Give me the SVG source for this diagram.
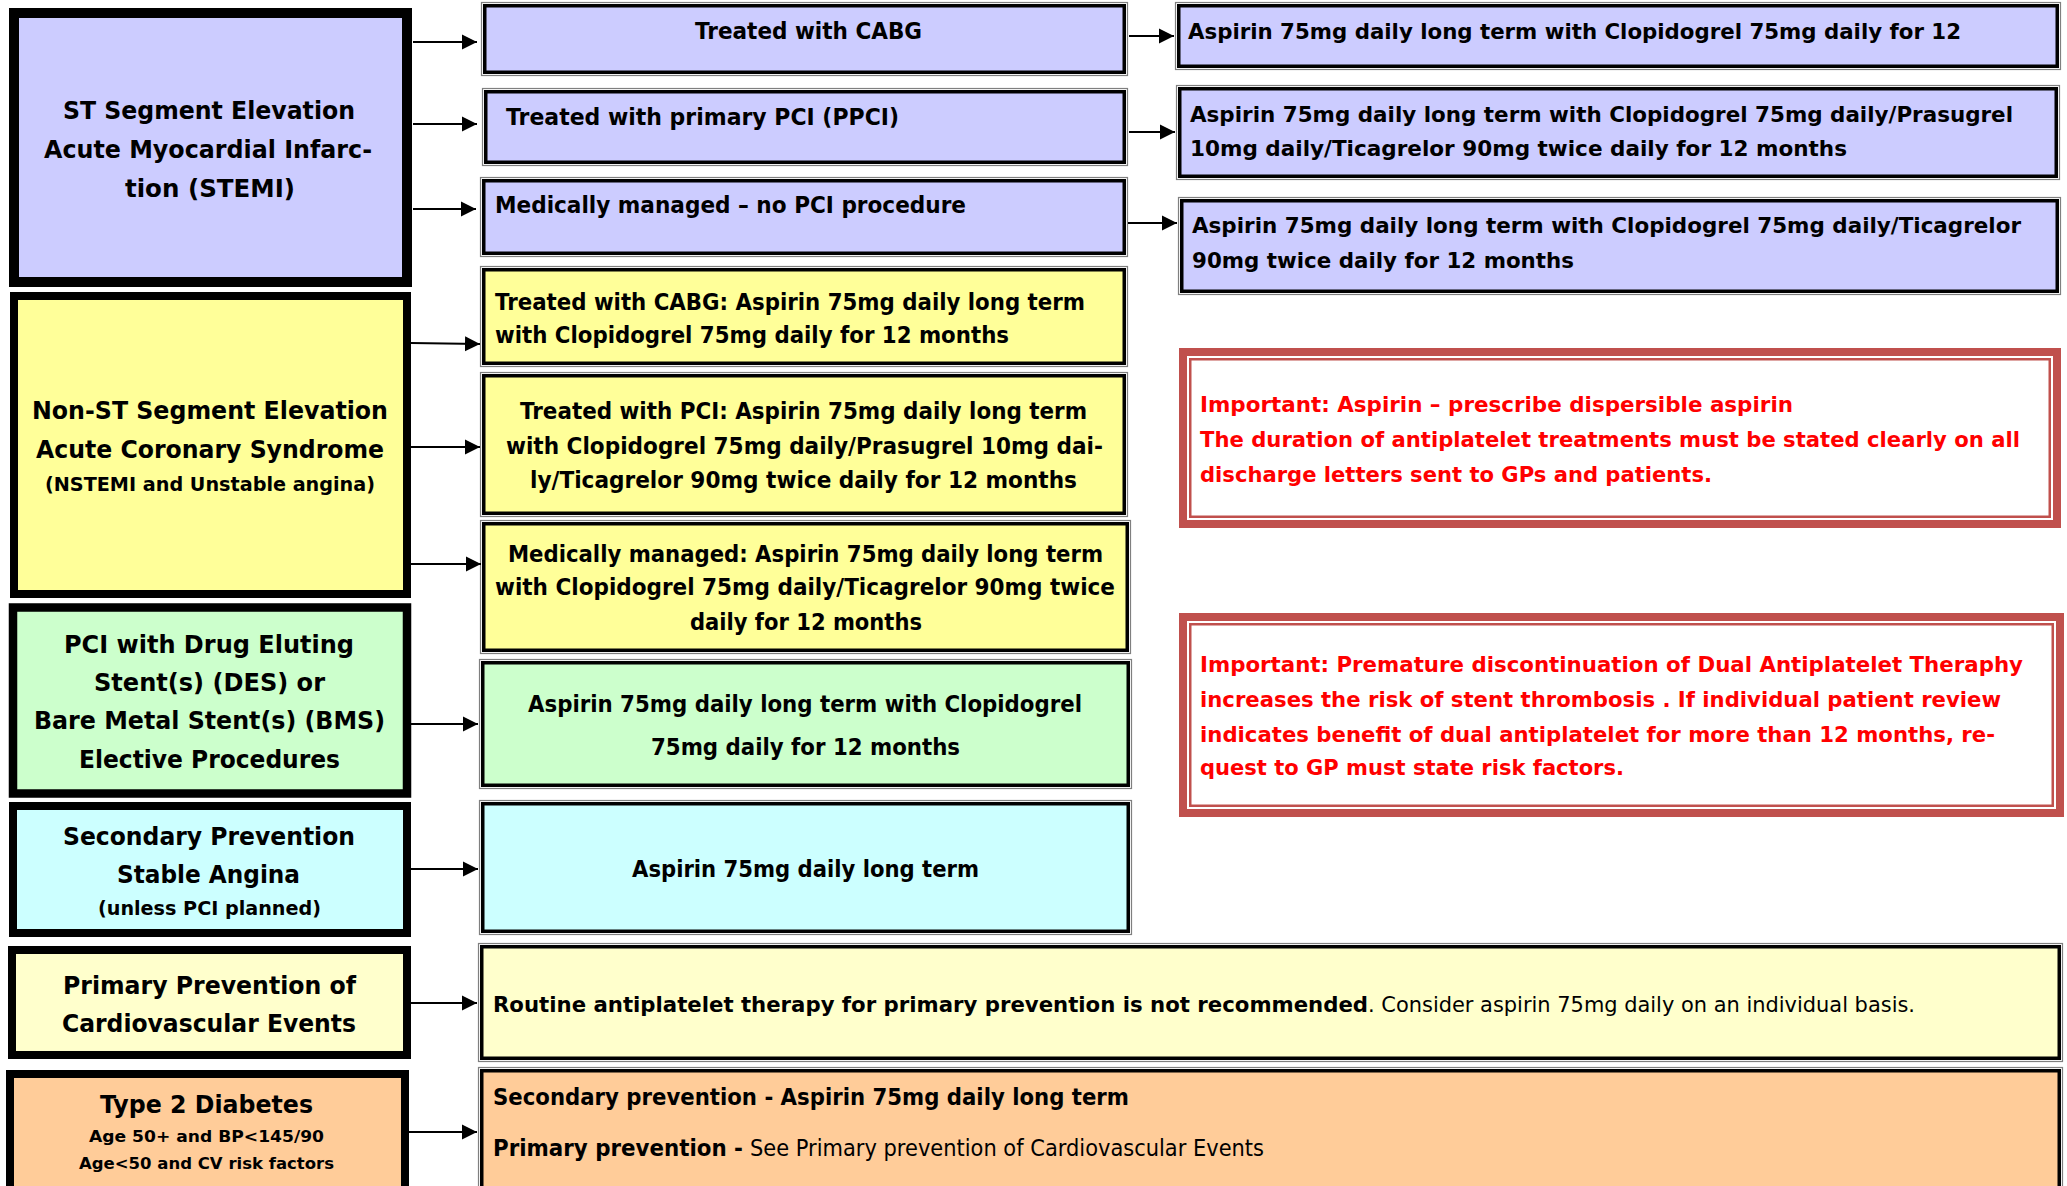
<svg xmlns="http://www.w3.org/2000/svg" width="2067" height="1186" viewBox="0 0 2067 1186">
<style>
.L{font-family:"DejaVu Sans",Verdana,sans-serif;font-weight:bold;font-size:24px;fill:#000}
.s{font-size:19px}
.xs{font-size:16.5px}
.M{font-family:"DejaVu Sans",Tahoma,sans-serif;font-weight:bold;font-size:22.5px;fill:#000}
.r21{font-size:21.5px}
.n{font-weight:normal}
.R{fill:#FF0000}
.og{fill:#fff;stroke:#7f7f7f;stroke-width:1.2}
.ib{stroke:#000;stroke-width:3.5}
.rb{fill:#fff;stroke:#C0504D;stroke-width:8}
.rt{fill:none;stroke:#C0504D;stroke-width:2.5}
.ar{stroke:#000;stroke-width:2.2;fill:none;marker-end:url(#ah)}
</style>
<defs>
<marker id="ah" markerUnits="userSpaceOnUse" markerWidth="16" markerHeight="16" refX="15" refY="8" orient="auto">
<path d="M0,0.5 L15,8 L0,15.5 z" fill="#000"/>
</marker>
</defs>
<rect width="2067" height="1186" fill="#fff"/>

<g id="stemi">
<rect x="14" y="13" width="393" height="269" fill="#CCCCFF" stroke="#000" stroke-width="10"/>
<text class="L" x="63" y="119" textLength="292" lengthAdjust="spacingAndGlyphs">ST Segment Elevation</text>
<text class="L" x="44" y="158" textLength="328" lengthAdjust="spacingAndGlyphs">Acute Myocardial Infarc-</text>
<text class="L" x="125" y="197" textLength="170" lengthAdjust="spacingAndGlyphs">tion (STEMI)</text>
</g>
<g id="nstemi">
<rect x="14" y="296" width="393" height="298" fill="#FFFF99" stroke="#000" stroke-width="8"/>
<text class="L" x="32" y="419" textLength="356" lengthAdjust="spacingAndGlyphs">Non-ST Segment Elevation</text>
<text class="L" x="36" y="458" textLength="348" lengthAdjust="spacingAndGlyphs">Acute Coronary Syndrome</text>
<text class="L s" x="45" y="491" textLength="330" lengthAdjust="spacingAndGlyphs">(NSTEMI and Unstable angina)</text>
</g>
<g id="pci">
<rect x="13" y="607.5" width="394" height="186" fill="#CCFFCC" stroke="#000" stroke-width="8.5"/>
<text class="L" x="64" y="653" textLength="290" lengthAdjust="spacingAndGlyphs">PCI with Drug Eluting</text>
<text class="L" x="94" y="691" textLength="231" lengthAdjust="spacingAndGlyphs">Stent(s) (DES) or</text>
<text class="L" x="34" y="729" textLength="351" lengthAdjust="spacingAndGlyphs">Bare Metal Stent(s) (BMS)</text>
<text class="L" x="79" y="768" textLength="261" lengthAdjust="spacingAndGlyphs">Elective Procedures</text>
</g>
<g id="secondary">
<rect x="13" y="806" width="394" height="127" fill="#CCFFFF" stroke="#000" stroke-width="8"/>
<text class="L" x="63" y="845" textLength="292" lengthAdjust="spacingAndGlyphs">Secondary Prevention</text>
<text class="L" x="117" y="883" textLength="183" lengthAdjust="spacingAndGlyphs">Stable Angina</text>
<text class="L s" x="98" y="915" textLength="223" lengthAdjust="spacingAndGlyphs">(unless PCI planned)</text>
</g>
<g id="primary">
<rect x="12" y="950" width="395" height="105" fill="#FFFFCC" stroke="#000" stroke-width="8"/>
<text class="L" x="63" y="994" textLength="293" lengthAdjust="spacingAndGlyphs">Primary Prevention of</text>
<text class="L" x="62" y="1032" textLength="294" lengthAdjust="spacingAndGlyphs">Cardiovascular Events</text>
</g>
<g id="diabetes">
<rect x="10" y="1074" width="395" height="140" fill="#FFCC99" stroke="#000" stroke-width="8"/>
<text class="L" x="100" y="1113" textLength="213" lengthAdjust="spacingAndGlyphs">Type 2 Diabetes</text>
<text class="L xs" x="89" y="1142" textLength="235" lengthAdjust="spacingAndGlyphs">Age 50+ and BP&lt;145/90</text>
<text class="L xs" x="79" y="1169" textLength="255" lengthAdjust="spacingAndGlyphs">Age&lt;50 and CV risk factors</text>
</g>

<g id="stemi-cabg">
<rect class="og" x="481.5" y="2.5" width="646" height="73"/>
<rect class="ib" x="484.75" y="5.75" width="639.5" height="66.5" fill="#CCCCFF"/>
<text class="M" x="695" y="39" textLength="227" lengthAdjust="spacingAndGlyphs">Treated with CABG</text>
</g>
<g id="stemi-ppci">
<rect class="og" x="482.5" y="88.5" width="645" height="77"/>
<rect class="ib" x="485.75" y="91.75" width="638.5" height="70.5" fill="#CCCCFF"/>
<text class="M" x="506" y="125" textLength="393" lengthAdjust="spacingAndGlyphs">Treated with primary PCI (PPCI)</text>
</g>
<g id="stemi-medical">
<rect class="og" x="480.5" y="177.5" width="647" height="79"/>
<rect class="ib" x="483.75" y="180.75" width="640.5" height="72.5" fill="#CCCCFF"/>
<text class="M" x="495" y="213" textLength="471" lengthAdjust="spacingAndGlyphs">Medically managed – no PCI procedure</text>
</g>
<g id="nstemi-cabg">
<rect class="og" x="480.5" y="266.5" width="647" height="100"/>
<rect class="ib" x="483.75" y="269.75" width="640.5" height="93.5" fill="#FFFF99"/>
<text class="M" x="495" y="310" textLength="590" lengthAdjust="spacingAndGlyphs">Treated with CABG: Aspirin 75mg daily long term</text>
<text class="M" x="495" y="343" textLength="514" lengthAdjust="spacingAndGlyphs">with Clopidogrel 75mg daily for 12 months</text>
</g>
<g id="nstemi-pci">
<rect class="og" x="480.5" y="372.5" width="647" height="144"/>
<rect class="ib" x="483.75" y="375.75" width="640.5" height="137.5" fill="#FFFF99"/>
<text class="M" x="520" y="419" textLength="567" lengthAdjust="spacingAndGlyphs">Treated with PCI: Aspirin 75mg daily long term</text>
<text class="M" x="506" y="454" textLength="597" lengthAdjust="spacingAndGlyphs">with Clopidogrel 75mg daily/Prasugrel 10mg dai-</text>
<text class="M" x="530" y="488" textLength="547" lengthAdjust="spacingAndGlyphs">ly/Ticagrelor 90mg twice daily for 12 months</text>
</g>
<g id="nstemi-medical">
<rect class="og" x="480.5" y="520.5" width="650" height="133"/>
<rect class="ib" x="483.75" y="523.75" width="643.5" height="126.5" fill="#FFFF99"/>
<text class="M" x="508" y="562" textLength="595" lengthAdjust="spacingAndGlyphs">Medically managed: Aspirin 75mg daily long term</text>
<text class="M" x="495" y="595" textLength="620" lengthAdjust="spacingAndGlyphs">with Clopidogrel 75mg daily/Ticagrelor 90mg twice</text>
<text class="M" x="690" y="630" textLength="232" lengthAdjust="spacingAndGlyphs">daily for 12 months</text>
</g>
<g id="pci-treatment">
<rect class="og" x="479.5" y="659.5" width="652" height="129"/>
<rect class="ib" x="482.75" y="662.75" width="645.5" height="122.5" fill="#CCFFCC"/>
<text class="M" x="528" y="712" textLength="554" lengthAdjust="spacingAndGlyphs">Aspirin 75mg daily long term with Clopidogrel</text>
<text class="M" x="651" y="755" textLength="309" lengthAdjust="spacingAndGlyphs">75mg daily for 12 months</text>
</g>
<g id="secondary-treatment">
<rect class="og" x="479.5" y="800.5" width="652" height="134"/>
<rect class="ib" x="482.75" y="803.75" width="645.5" height="127.5" fill="#CCFFFF"/>
<text class="M" x="632" y="877" textLength="347" lengthAdjust="spacingAndGlyphs">Aspirin 75mg daily long term</text>
</g>
<g id="primary-treatment">
<rect class="og" x="478.5" y="943.5" width="1584" height="118"/>
<rect class="ib" x="481.75" y="946.75" width="1577.5" height="111.5" fill="#FFFFCC"/>
<text class="M r21" x="493" y="1012" textLength="875" lengthAdjust="spacingAndGlyphs">Routine antiplatelet therapy for primary prevention is not recommended</text>
<text class="M r21 n" x="1368" y="1012" textLength="547" lengthAdjust="spacingAndGlyphs">. Consider aspirin 75mg daily on an individual basis.</text>
</g>
<g id="diabetes-treatment">
<rect class="og" x="478.5" y="1067.5" width="1584" height="140"/>
<rect class="ib" x="481.75" y="1070.75" width="1577.5" height="140" fill="#FFCC99"/>
<text class="M" x="493" y="1105" textLength="636" lengthAdjust="spacingAndGlyphs">Secondary prevention - Aspirin 75mg daily long term</text>
<text class="M" x="493" y="1156" textLength="250" lengthAdjust="spacingAndGlyphs">Primary prevention -</text>
<text class="M n" x="750" y="1156" textLength="514" lengthAdjust="spacingAndGlyphs">See Primary prevention of Cardiovascular Events</text>
</g>

<g id="cabg-regimen">
<rect class="og" x="1175.5" y="2.5" width="885" height="67"/>
<rect class="ib" x="1178.75" y="5.75" width="878.5" height="60.5" fill="#CCCCFF"/>
<text class="M r21" x="1188" y="39" textLength="773" lengthAdjust="spacingAndGlyphs">Aspirin 75mg daily long term with Clopidogrel 75mg daily for 12</text>
</g>
<g id="ppci-regimen">
<rect class="og" x="1176.5" y="85.5" width="883" height="94"/>
<rect class="ib" x="1179.75" y="88.75" width="876.5" height="87.5" fill="#CCCCFF"/>
<text class="M r21" x="1190" y="122" textLength="823" lengthAdjust="spacingAndGlyphs">Aspirin 75mg daily long term with Clopidogrel 75mg daily/Prasugrel</text>
<text class="M r21" x="1190" y="156" textLength="657" lengthAdjust="spacingAndGlyphs">10mg daily/Ticagrelor 90mg twice daily for 12 months</text>
</g>
<g id="medical-regimen">
<rect class="og" x="1178.5" y="197.5" width="882" height="97"/>
<rect class="ib" x="1181.75" y="200.75" width="875.5" height="90.5" fill="#CCCCFF"/>
<text class="M r21" x="1192" y="233" textLength="829" lengthAdjust="spacingAndGlyphs">Aspirin 75mg daily long term with Clopidogrel 75mg daily/Ticagrelor</text>
<text class="M r21" x="1192" y="268" textLength="382" lengthAdjust="spacingAndGlyphs">90mg twice daily for 12 months</text>
</g>

<g id="important-aspirin">
<rect class="rb" x="1183" y="352" width="874" height="172"/>
<rect class="rt" x="1190.25" y="359.25" width="859.5" height="157.5"/>
<text class="M R r21" x="1200" y="412" textLength="593" lengthAdjust="spacingAndGlyphs">Important: Aspirin – prescribe dispersible aspirin</text>
<text class="M R r21" x="1200" y="447" textLength="820" lengthAdjust="spacingAndGlyphs">The duration of antiplatelet treatments must be stated clearly on all</text>
<text class="M R r21" x="1200" y="482" textLength="512" lengthAdjust="spacingAndGlyphs">discharge letters sent to GPs and patients.</text>
</g>
<g id="important-dapt">
<rect class="rb" x="1183" y="617" width="877" height="196"/>
<rect class="rt" x="1190.25" y="624.25" width="862.5" height="181.5"/>
<text class="M R r21" x="1200" y="672" textLength="823" lengthAdjust="spacingAndGlyphs">Important: Premature discontinuation of Dual Antiplatelet Theraphy</text>
<text class="M R r21" x="1200" y="707" textLength="801" lengthAdjust="spacingAndGlyphs">increases the risk of stent thrombosis . If individual patient review</text>
<text class="M R r21" x="1200" y="742" textLength="795" lengthAdjust="spacingAndGlyphs">indicates benefit of dual antiplatelet for more than 12 months, re-</text>
<text class="M R r21" x="1200" y="775" textLength="424" lengthAdjust="spacingAndGlyphs">quest to GP must state risk factors.</text>
</g>

<g id="connectors">
<path class="ar" d="M413,42 L477,42"/>
<path class="ar" d="M413,124 L477,124"/>
<path class="ar" d="M413,209 L476,209"/>
<path class="ar" d="M411,343 L480,344"/>
<path class="ar" d="M411,447 L480,447"/>
<path class="ar" d="M411,564 L481,564"/>
<path class="ar" d="M411,724 L478,724"/>
<path class="ar" d="M411,869 L478,869"/>
<path class="ar" d="M411,1003 L477,1003"/>
<path class="ar" d="M409,1132 L477,1132"/>
<path class="ar" d="M1129,36 L1174,36"/>
<path class="ar" d="M1129,132 L1175,132"/>
<path class="ar" d="M1128,223 L1177,223"/>
</g>
</svg>
